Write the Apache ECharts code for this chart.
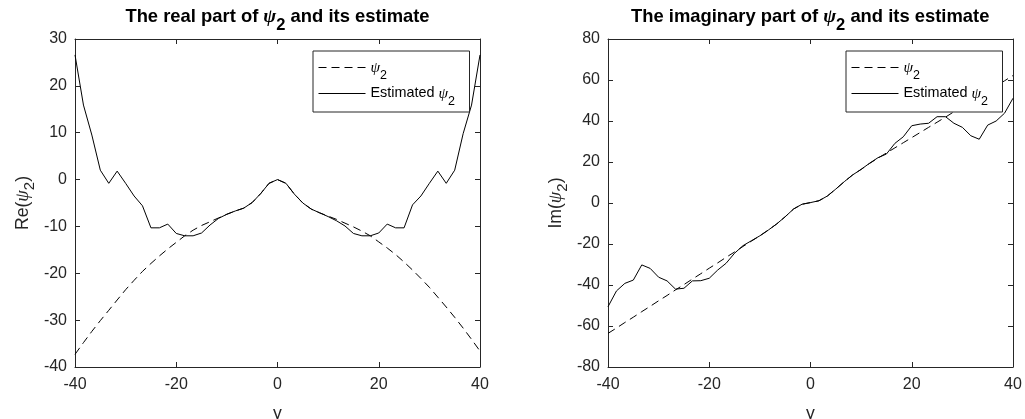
<!DOCTYPE html>
<html>
<head>
<meta charset="utf-8">
<script src="https://cdn.jsdelivr.net/npm/echarts@6/dist/echarts.min.js"></script>
<style>
  html, body { margin: 0; padding: 0; background: #ffffff; }
  #chart { width: 1025px; height: 419px; }
</style>
</head>
<body>
<div id="chart"></div>
<script>
// Sample positions along y (49 samples from -40 to 40)
const yGrid = [
  -40, -38.33, -36.67, -35, -33.33, -31.67, -30, -28.33, -26.67, -25,
  -23.33, -21.67, -20, -18.33, -16.67, -15, -13.33, -11.67, -10, -8.33,
  -6.67, -5, -3.33, -1.67, 0, 1.67, 3.33, 5, 6.67, 8.33,
  10, 11.67, 13.33, 15, 16.67, 18.33, 20, 21.67, 23.33, 25,
  26.67, 28.33, 30, 31.67, 33.33, 35, 36.67, 38.33, 40
];

// Real part: true psi_2 and its estimate
const reTrue = [
  -37.3, -34.8, -32.4, -30.1, -27.9, -25.7, -23.5, -21.5, -19.6, -17.9,
  -16.3, -14.8, -13.4, -12.0, -10.8, -9.8, -9.0, -8.2, -7.4, -6.7,
  -6.1, -4.9, -3.0, -0.8, 0, -0.8, -3.1, -5.0, -6.3, -7.1,
  -7.8, -8.5, -9.3, -10.1, -11.0, -12.0, -13.3, -14.6, -16.0, -17.6,
  -19.3, -21.1, -23.0, -25.1, -27.2, -29.4, -31.7, -34.1, -36.6
];
const reEstimated = [
  26.6, 15.9, 9.5, 2.0, -0.8, 1.8, -0.8, -3.5, -5.6, -10.3,
  -10.3, -9.5, -11.5, -12.0, -12.0, -11.4, -9.7, -8.3, -7.4, -6.7,
  -6.1, -4.9, -3.0, -0.8, 0, -0.8, -3.1, -5.0, -6.3, -7.1,
  -7.9, -8.8, -9.9, -11.5, -12.0, -12.0, -11.4, -9.5, -10.3, -10.3,
  -5.4, -3.5, -0.8, 1.8, -0.8, 2.0, 9.8, 15.9, 26.6
];

// Imaginary part: true psi_2 and its estimate
const imTrue = [
  -63.6, -61.0, -58.3, -55.7, -53.0, -50.4, -47.7, -45.1, -42.4, -39.8,
  -37.1, -34.5, -31.8, -29.2, -26.5, -23.9, -21.2, -18.6, -16.0, -13.2,
  -10.2, -6.7, -2.9, -0.6, 0.2, 1.1, 3.4, 6.8, 10.4, 13.7,
  16.4, 19.3, 21.9, 24.4, 26.9, 29.4, 31.9, 34.4, 36.9, 39.4,
  41.9, 44.5, 47.0, 49.6, 52.1, 54.6, 57.1, 59.6, 62.2
];
const imEstimated = [
  -50.6, -42.9, -39.2, -37.6, -30.2, -31.9, -36.2, -38.0, -42.0, -41.6,
  -38.0, -37.9, -36.7, -32.7, -29.4, -24.5, -20.8, -18.4, -16.0, -13.2,
  -10.2, -6.7, -2.9, -0.6, 0.2, 1.1, 3.4, 6.8, 10.4, 13.7,
  16.4, 19.4, 22.1, 23.9, 29.1, 32.3, 37.7, 38.5, 38.9, 42.1,
  42.1, 38.9, 36.9, 32.8, 31.1, 38.0, 40.0, 43.8, 51.1
];

// Axis ranges
const xRange = { min: -40, max: 40, interval: 20 };
const reRange = { min: -40, max: 30, interval: 10 };
const imRange = { min: -80, max: 80, interval: 20 };

const titles = [
  'The real part of {psi|ψ}{sub|2} and its estimate',
  'The imaginary part of {psi|ψ}{sub|2} and its estimate'
];
const yNames = ['Re({psi|ψ}{sub|2})', 'Im({psi|ψ}{sub|2})'];
const xName = 'y';
const legendLabels = {
  'ψ_2': '{psi|ψ}{sub|2}',
  'Estimated ψ_2': 'Estimated {psi|ψ}{sub|2}'
};

const ink = '#262626';
const sans = '"Liberation Sans", Arial, sans-serif';
const serif = '"Liberation Serif", "DejaVu Serif", serif';

const pairs = (ys) => yGrid.map((x, i) => [x, ys[i]]);

const grids = [
  { left: 75, right: 545, top: 39, bottom: 52, outerBoundsMode: 'none', containLabel: false },
  { left: 608, right: 12, top: 39, bottom: 52, outerBoundsMode: 'none', containLabel: false }
];

// psi glyph plus a lowered subscript; the top padding pushes the digit down
function richScript(size, subSize, drop, weight, color) {
  return {
    psi: { fontFamily: serif, fontStyle: 'italic', fontWeight: weight, fontSize: size + 1, lineHeight: 20, color: color },
    sub: { fontFamily: sans, fontWeight: weight, fontSize: subSize, lineHeight: 20, padding: [drop, 0, 0, 0], color: color }
  };
}

const xAxes = [];
const yAxes = [];
[0, 1].forEach((g) => {
  const yr = g === 0 ? reRange : imRange;
  xAxes.push({
    type: 'value', gridIndex: g, position: 'bottom',
    min: xRange.min, max: xRange.max, interval: xRange.interval,
    name: xName, nameLocation: 'middle', nameGap: 38,
    nameTextStyle: { color: ink, fontFamily: sans, fontSize: 17.6 },
    axisLine: { onZero: false, lineStyle: { color: ink, width: 1 } },
    axisTick: { inside: true, length: 5, lineStyle: { color: ink } },
    axisLabel: { color: ink, fontFamily: sans, fontSize: 16, margin: 10 },
    splitLine: { show: false }
  });
  xAxes.push({
    type: 'value', gridIndex: g, position: 'top',
    min: xRange.min, max: xRange.max, interval: xRange.interval,
    axisLine: { onZero: false, lineStyle: { color: ink, width: 1 } },
    axisTick: { inside: true, length: 5, lineStyle: { color: ink } },
    axisLabel: { show: false },
    splitLine: { show: false }
  });
  yAxes.push({
    type: 'value', gridIndex: g, position: 'left',
    min: yr.min, max: yr.max, interval: yr.interval,
    name: yNames[g], nameLocation: 'middle', nameGap: 42, nameRotate: 90,
    nameTextStyle: {
      color: ink, fontFamily: sans, fontSize: 17.6, lineHeight: 20,
      rich: richScript(17.6, 15, 14, 'normal', ink)
    },
    axisLine: { onZero: false, lineStyle: { color: ink, width: 1 } },
    axisTick: { inside: true, length: 5, lineStyle: { color: ink } },
    axisLabel: { color: ink, fontFamily: sans, fontSize: 16, margin: 8 },
    splitLine: { show: false }
  });
  yAxes.push({
    type: 'value', gridIndex: g, position: 'right',
    min: yr.min, max: yr.max, interval: yr.interval,
    axisLine: { onZero: false, lineStyle: { color: ink, width: 1 } },
    axisTick: { inside: true, length: 5, lineStyle: { color: ink } },
    axisLabel: { show: false },
    splitLine: { show: false }
  });
});

function lineSeries(name, g, ys, dashed) {
  return {
    name: name, type: 'line',
    xAxisIndex: g * 2, yAxisIndex: g * 2,
    data: pairs(ys),
    symbol: 'none', showSymbol: false,
    lineStyle: { color: '#000000', width: 1, type: dashed ? [8, 5] : 'solid' },
    itemStyle: { color: '#000000' },
    z: dashed ? 2 : 3
  };
}

const series = [
  lineSeries('ψ_2', 0, reTrue, true),
  lineSeries('Estimated ψ_2', 0, reEstimated, false),
  lineSeries('ψ_2', 1, imTrue, true),
  lineSeries('Estimated ψ_2', 1, imEstimated, false)
];

const legendBoxes = [
  { left: 313, top: 51 },
  { left: 846, top: 51 }
];

const option = {
  backgroundColor: '#ffffff',
  animation: false,
  title: titles.map((t, i) => ({
    text: t,
    left: i === 0 ? 277.5 : 810.2,
    top: 6.5,
    textAlign: 'center',
    padding: 0,
    textStyle: {
      color: '#000000', fontFamily: sans, fontWeight: 'bold', fontSize: 18.4, lineHeight: 20,
      rich: richScript(18.4, 16.5, 18, 'bold', '#000000')
    }
  })),
  legend: legendBoxes.map((b) => ({
    orient: 'vertical',
    left: b.left, top: b.top,
    data: ['ψ_2', 'Estimated ψ_2'],
    selectedMode: false,
    itemWidth: 47, itemHeight: 13, itemGap: -3,
    padding: [2, 5, 4, 5],
    backgroundColor: '#ffffff',
    borderColor: ink, borderWidth: 1, borderRadius: 0,
    itemStyle: { opacity: 0 },
    lineStyle: { width: 1 },
    formatter: (name) => legendLabels[name],
    textStyle: {
      color: '#000000', fontFamily: sans, fontSize: 14.4, lineHeight: 20, width: 94,
      rich: richScript(14.4, 12.5, 16, 'normal', '#000000')
    }
  })),
  grid: grids,
  xAxis: xAxes,
  yAxis: yAxes,
  series: series
};

const chart = echarts.init(document.getElementById('chart'), null, { renderer: 'canvas' });
chart.setOption(option);
</script>
</body>
</html>
